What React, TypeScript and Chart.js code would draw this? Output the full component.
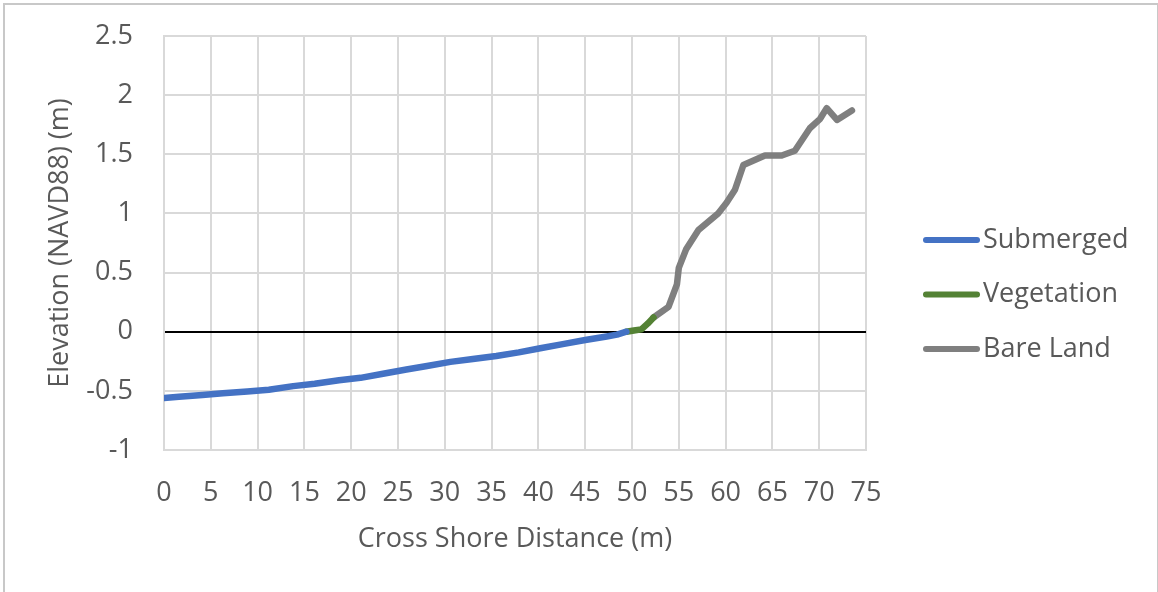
import React, { useEffect, useRef } from "react";
import { Chart, registerables } from "chart.js";

Chart.register(...registerables);

// Cross-shore profile: elevation (m, NAVD88) against distance from the shoreline (m)
const submergedDistance = [0, 1.6, 4.1, 6.3, 8.9, 11.2, 13.8, 16.1, 18.7, 21.0, 23.4, 25.9, 28.1, 30.6, 33.0, 35.5, 37.9, 40.2, 42.6, 45.0, 47.3, 48.4, 49.4];
const submergedElevation = [-0.56, -0.55, -0.535, -0.52, -0.505, -0.49, -0.46, -0.44, -0.41, -0.39, -0.355, -0.32, -0.29, -0.255, -0.23, -0.205, -0.175, -0.14, -0.105, -0.07, -0.04, -0.025, 0.0];

const vegetationDistance = [49.4, 50.2, 51.0, 51.7, 52.3];
const vegetationElevation = [0.0, 0.01, 0.02, 0.07, 0.12];

const bareDistance = [52.3, 53.9, 54.8, 55.0, 55.8, 57.1, 59.2, 60.1, 61.0, 61.9, 64.2, 66.0, 67.4, 69.0, 70.1, 70.8, 71.9, 73.5];
const bareElevation = [0.12, 0.21, 0.4, 0.54, 0.7, 0.86, 1.0, 1.09, 1.2, 1.41, 1.49, 1.49, 1.53, 1.72, 1.8, 1.89, 1.79, 1.87];

const seriesNames = ["Submerged", "Vegetation", "Bare Land"];
const seriesColors = ["#4472C4", "#548235", "#7F7F7F"];

const xTitle = "Cross Shore Distance (m)";
const yTitle = "Elevation (NAVD88) (m)";

const FONT_FAMILY = "'Open Sans', 'Noto Sans', sans-serif";
const TEXT_COLOR = "#595959";
const GRID_COLOR = "#d9d9d9";
const W = 1158;
const H = 592;

const toPoints = (xs: number[], ys: number[]) => xs.map((x, i) => ({ x, y: ys[i] }));

// Legend drawn to the right of the plot: short thick line followed by the series name
const sideLegend = {
  id: "sideLegend",
  afterDraw(chart: any) {
    const { ctx } = chart;
    ctx.save();
    chart.data.datasets.forEach((ds: any, i: number) => {
      const y = 240 + i * 54.5;
      ctx.strokeStyle = ds.borderColor;
      ctx.lineWidth = 6;
      ctx.lineCap = "round";
      ctx.beginPath();
      ctx.moveTo(926, y);
      ctx.lineTo(977, y);
      ctx.stroke();
      ctx.fillStyle = TEXT_COLOR;
      ctx.font = `27px ${FONT_FAMILY}`;
      ctx.textAlign = "left";
      ctx.textBaseline = "middle";
      ctx.fillText(ds.label, 983, y);
    });
    ctx.restore();
  },
};

export default function App() {
  const canvasRef = useRef<HTMLCanvasElement | null>(null);

  useEffect(() => {
    if (!canvasRef.current) return;
    const font = { family: FONT_FAMILY, size: 27 };
    const seriesData = [
      toPoints(submergedDistance, submergedElevation),
      toPoints(vegetationDistance, vegetationElevation),
      toPoints(bareDistance, bareElevation),
    ];
    const chart = new Chart(canvasRef.current, {
      type: "scatter",
      data: {
        datasets: seriesData.map((data, i) => ({
          label: seriesNames[i],
          data,
          showLine: true,
          borderColor: seriesColors[i],
          backgroundColor: seriesColors[i],
          borderWidth: 6.5,
          borderJoinStyle: "round",
          borderCapStyle: "round",
          pointRadius: 0,
          pointHoverRadius: 0,
          tension: 0,
          fill: false,
        })),
      },
      options: {
        animation: false,
        responsive: false,
        maintainAspectRatio: false,
        layout: { padding: { left: 0, right: W - 866, top: 36, bottom: 0 } },
        plugins: {
          legend: { display: false },
          tooltip: { enabled: false },
        },
        scales: {
          x: {
            type: "linear",
            min: 0,
            max: 75,
            ticks: { stepSize: 5, color: TEXT_COLOR, font, padding: 27, maxRotation: 0, autoSkip: false },
            grid: { color: GRID_COLOR, lineWidth: 2, drawTicks: false },
            border: { display: true, color: GRID_COLOR, width: 2 },
            title: { display: true, text: xTitle, color: TEXT_COLOR, font, padding: { top: 0, bottom: 36 } },
            afterFit: (scale: any) => {
              scale.height = H - 450;
              scale.paddingLeft = 0;
              scale.paddingRight = 0;
            },
          },
          y: {
            type: "linear",
            min: -1,
            max: 2.5,
            ticks: {
              stepSize: 0.5,
              color: TEXT_COLOR,
              font,
              padding: 31,
              callback: (v: any) => String(Math.round(Number(v) * 10) / 10),
            },
            grid: {
              color: (c: any) => (c.tick && c.tick.value === 0 ? "#000000" : GRID_COLOR),
              lineWidth: 2,
              drawTicks: false,
            },
            border: { display: true, color: GRID_COLOR, width: 2 },
            title: { display: true, text: yTitle, color: TEXT_COLOR, font, padding: { top: 44, bottom: 0 } },
            afterFit: (scale: any) => {
              scale.width = 164;
              scale.paddingTop = 0;
              scale.paddingBottom = 0;
            },
          },
        },
      },
      plugins: [sideLegend],
    } as any);
    return () => chart.destroy();
  }, []);

  return (
    <div style={{ position: "fixed", left: 0, top: 0, width: W, height: H, overflow: "hidden", background: "#ffffff" }}>
      <canvas
        ref={canvasRef}
        width={W}
        height={H}
        style={{ position: "absolute", left: 0, top: 0, width: W, height: H }}
      />
      <div
        style={{
          position: "absolute",
          left: 3,
          top: 3,
          width: 1156,
          height: 700,
          boxSizing: "border-box",
          border: "2px solid #c8c8c8",
          pointerEvents: "none",
        }}
      />
    </div>
  );
}
